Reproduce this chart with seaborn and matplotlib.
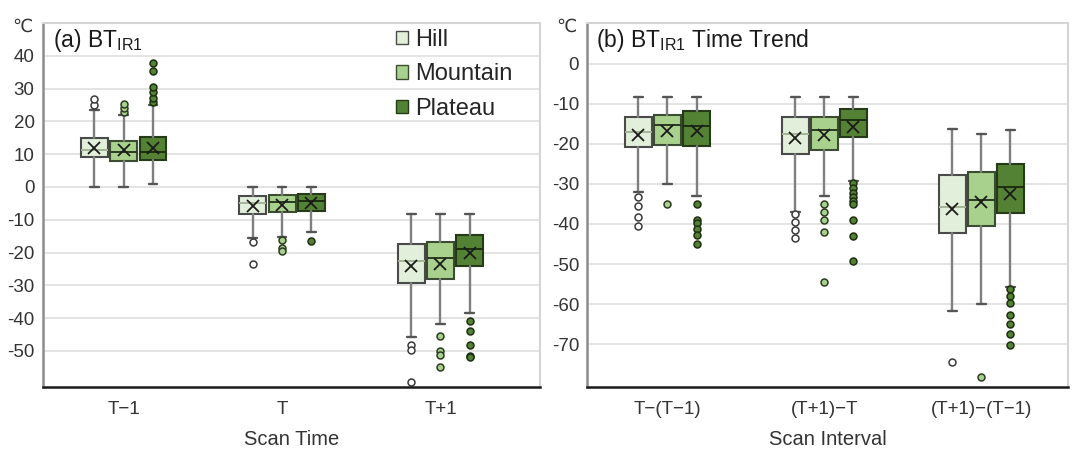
import numpy as np
import matplotlib
matplotlib.use("Agg")
import matplotlib.pyplot as plt
from matplotlib.patches import Patch
import seaborn as sns

# ---------------- data ----------------
groups = ["Hill", "Mountain", "Plateau"]
cats_a = ["T\u22121", "T", "T+1"]
cats_b = ["T\u2212(T\u22121)", "(T+1)\u2212T", "(T+1)\u2212(T\u22121)"]

# panel (a): rows = groups, columns = categories
a_whislo = [[0, -15.7, -45.8], [0, -15.4, -41.7], [1, -13.6, -38.4]]
a_q1 = [[9.0, -8.1, -29.4], [7.9, -7.7, -28.0], [8.3, -7.2, -24.2]]
a_med = [[11.3, -4.8, -22.5], [10.7, -4.6, -21.8], [10.5, -4.2, -18.9]]
a_q3 = [[14.9, -2.7, -17.5], [14.0, -2.5, -16.8], [15.2, -2.3, -14.7]]
a_whishi = [[23.5, 0, -8.4], [22.0, 0, -8.4], [25.0, 0, -8.3]]
a_mean = [[11.8, -5.8, -24.0], [11.2, -5.6, -23.4], [11.8, -4.8, -20.2]]
a_fliers = [
    [[25.0, 26.7], [-16.9, -23.5], [-48.2, -49.8, -59.4]],
    [[23.0, 24.0, 25.3], [-16.2, -18.5, -19.6], [-45.5, -50.0, -51.3, -54.8]],
    [[25.8, 27.1, 28.8, 30.6, 35.2, 37.7], [-16.6], [-40.9, -44.0, -48.2, -51.5, -52.0]],
]

# panel (b)
b_whislo = [[-32.0, -37.0, -61.8], [-30.0, -33.1, -60.0], [-33.1, -29.2, -55.8]]
b_q1 = [[-20.8, -22.5, -42.2], [-20.3, -21.5, -40.5], [-20.6, -18.3, -37.2]]
b_med = [[-17.0, -17.5, -35.8], [-15.4, -16.5, -33.9], [-15.6, -14.0, -30.7]]
b_q3 = [[-13.2, -13.2, -27.7], [-12.7, -13.2, -27.1], [-11.7, -11.2, -24.9]]
b_whishi = [[-8.3, -8.2, -16.2], [-8.2, -8.2, -17.5], [-8.2, -8.2, -16.5]]
b_mean = [[-17.8, -18.5, -36.2], [-16.7, -17.8, -34.5], [-16.9, -15.7, -32.5]]
b_fliers = [
    [[-33.2, -35.6, -38.3, -40.5], [-37.4, -39.5, -41.4, -43.6], [-74.5]],
    [[-35.1], [-35.1, -37.0, -39.1, -42.0, -54.6], [-78.3]],
    [[-35.1, -38.9, -39.8, -41.2, -42.8, -44.9],
     [-29.8, -31.0, -32.2, -33.3, -34.3, -35.1, -39.1, -43.1, -49.3],
     [-56.3, -58.1, -59.7, -62.7, -65.0, -67.5, -70.3]],
]

a_yticks = [-50, -40, -30, -20, -10, 0, 10, 20, 30, 40]
b_yticks = [-70, -60, -50, -40, -30, -20, -10, 0]

# ---------------- style ----------------
sns.set_theme(style="whitegrid")
plt.rcParams["font.family"] = ["Liberation Sans", "DejaVu Sans"]
plt.rcParams["axes.unicode_minus"] = False
plt.rcParams["mathtext.fontset"] = "custom"
plt.rcParams["mathtext.rm"] = "Liberation Sans"

fills = ["#e2efda", "#a9d18e", "#548235"]
edges = ["#4a4a4a", "#3b4d30", "#253b17"]
medcols = ["#a3b596", "#2b3a22", "#1c2f10"]
flier_fc = ["#ffffff", "#a9d18e", "#548235"]
flier_ec = ["#3a3a3a", "#2b3a22", "#1c2f10"]
offsets = [-0.185, 0.0, 0.185]
txtc = "#333333"
tick_fs = 13.5

fig = plt.figure(figsize=(10.74, 4.5), dpi=100)
axA = fig.add_axes([0.040, 0.140, 0.463, 0.809])
axB = fig.add_axes([0.547, 0.140, 0.447, 0.809])


def draw(ax, whislo, q1, med, q3, whishi, mean, fliers, cats, yticks, ylim, xlim):
    for gi in range(len(groups)):
        stats = []
        for ci in range(len(cats)):
            stats.append(dict(med=med[gi][ci], q1=q1[gi][ci], q3=q3[gi][ci],
                              whislo=whislo[gi][ci], whishi=whishi[gi][ci],
                              mean=mean[gi][ci], fliers=fliers[gi][ci]))
        pos = np.arange(len(cats)) + offsets[gi]
        ax.bxp(stats, positions=pos, widths=0.17, patch_artist=True,
               showmeans=True, capwidths=0.055,
               boxprops=dict(facecolor=fills[gi], edgecolor=edges[gi], linewidth=1.5),
               medianprops=dict(color=medcols[gi], linewidth=1.4),
               whiskerprops=dict(color="#7f7f7f", linewidth=1.7),
               capprops=dict(color="#555555", linewidth=1.7),
               flierprops=dict(marker="o", markerfacecolor=flier_fc[gi],
                               markeredgecolor=flier_ec[gi], markersize=5,
                               markeredgewidth=1.1),
               meanprops=dict(marker="x", markeredgecolor="#1a1a1a",
                              markersize=9, markeredgewidth=1.3))
    ax.set_xticks(range(len(cats)))
    ax.set_xticklabels(cats, fontsize=tick_fs, color=txtc)
    ax.set_yticks(yticks)
    ax.set_yticklabels([str(t) for t in yticks], fontsize=tick_fs, color=txtc)
    ax.set_xlim(*xlim)
    ax.set_ylim(*ylim)
    ax.set_axisbelow(True)
    ax.xaxis.grid(False)
    ax.yaxis.grid(True, color="#e4e4e4", linewidth=1.4)
    ax.tick_params(axis="x", length=0, pad=10)
    ax.tick_params(axis="y", length=0, pad=6)
    ax.set_facecolor("white")
    ax.spines["left"].set_color("#8c8c8c")
    ax.spines["left"].set_linewidth(1.8)
    ax.spines["bottom"].set_color("#1a1a1a")
    ax.spines["bottom"].set_linewidth(1.8)
    for s in ("top", "right"):
        ax.spines[s].set_color("#d4d4d4")
        ax.spines[s].set_linewidth(1.5)
    ax.text(-0.022, 0.99, "\u2103", transform=ax.transAxes, ha="right",
            va="center", fontsize=13, color=txtc,
            family=["DejaVu Sans"])


draw(axA, a_whislo, a_q1, a_med, a_q3, a_whishi, a_mean, a_fliers,
     cats_a, a_yticks, (-61, 50), (-0.51, 2.63))
draw(axB, b_whislo, b_q1, b_med, b_q3, b_whishi, b_mean, b_fliers,
     cats_b, b_yticks, (-80.7, 10.2), (-0.51, 2.55))

axA.text(0.02, 0.933, r"(a) BT$_\mathregular{IR1}$", transform=axA.transAxes,
         ha="left", va="baseline", fontsize=16.5, color="#1a1a1a")
axB.text(0.017, 0.935, r"(b) BT$_\mathregular{IR1}$ Time Trend", transform=axB.transAxes,
         ha="left", va="baseline", fontsize=16.5, color="#1a1a1a")

axA.set_xlabel("Scan Time", fontsize=14.5, color=txtc, labelpad=9)
axB.set_xlabel("Scan Interval", fontsize=14.5, color=txtc, labelpad=9)

handles = [Patch(facecolor=fills[i], edgecolor=edges[i], linewidth=1.0, label=groups[i])
           for i in range(3)]
axA.legend(handles=handles, loc="upper left", bbox_to_anchor=(0.71, 0.983),
           frameon=False, fontsize=17, handlelength=0.5, handleheight=0.5,
           handletextpad=0.3, labelspacing=0.52, borderaxespad=0, borderpad=0)

fig.savefig("out.png", dpi=100, facecolor="white")
